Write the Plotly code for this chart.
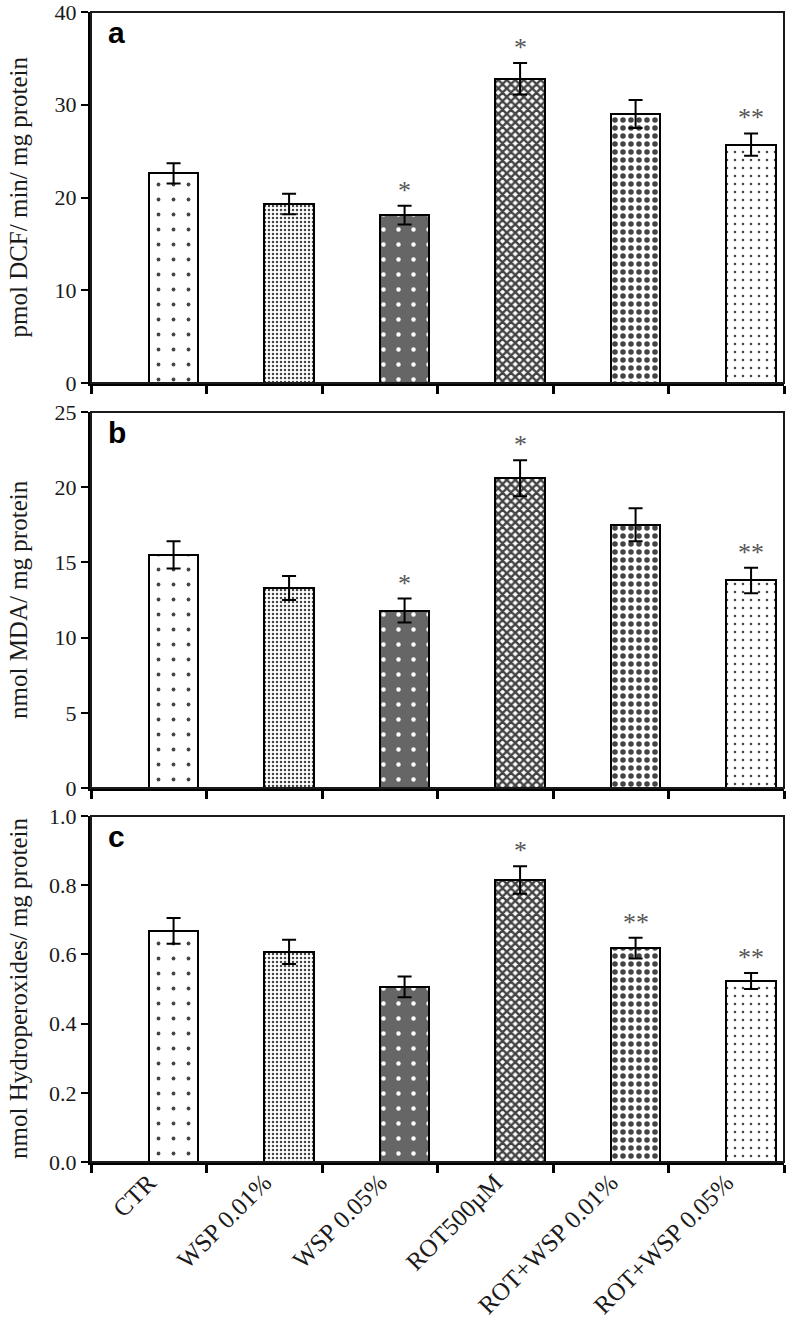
import plotly.graph_objects as go

categories = ["CTR", "WSP 0.01%", "WSP 0.05%", "ROT500µM", "ROT+WSP 0.01%", "ROT+WSP 0.05%"]

dcf_values = [22.6, 19.3, 18.1, 32.8, 29.0, 25.7]
dcf_errors = [1.1, 1.1, 1.0, 1.7, 1.5, 1.2]
dcf_marks = ["", "", "*", "*", "", "**"]

mda_values = [15.5, 13.3, 11.8, 20.6, 17.5, 13.8]
mda_errors = [0.9, 0.8, 0.8, 1.2, 1.1, 0.85]
mda_marks = ["", "", "*", "*", "", "**"]

hp_values = [0.668, 0.607, 0.506, 0.815, 0.618, 0.523]
hp_errors = [0.037, 0.035, 0.03, 0.04, 0.03, 0.023]
hp_marks = ["", "", "", "*", "**", "**"]

panel_letters = ["a", "b", "c"]
y_titles = ["pmol DCF/ min/ mg protein", "nmol MDA/ mg protein", "nmol Hydroperoxides/ mg protein"]
y_ranges = [[0, 40], [0, 25], [0, 1.0]]
y_dticks = [10, 5, 0.2]
y_formats = ["d", "d", ".1f"]

W, H = 792, 1324
ML, MR, MT, MB = 60, 4, 4, 150
PW, PH = W - ML - MR, H - MT - MB


def px_x(p):
    return (p - ML) / PW


def px_y(p):
    return 1 - (p - MT) / PH


# panel pixel extents (top, bottom)
panels_px = [(12, 383), (412, 788), (816, 1162)]
x_px = (91, 784)

pat_shape = [".", ".", ".", "x", ".", "."]
pat_fg = ["#111111", "#222222", "#ffffff", "#000000", "#000000", "#222222"]
pat_bg = ["#ffffff", "#ffffff", "#666666", "#ffffff", "#ffffff", "#ffffff"]
pat_size = [15, 4, 15, 6, 8, 8]
pat_sol = [0.05, 0.3, 0.07, 0.65, 0.38, 0.08]

BAR_W = 0.43
xs = list(range(len(categories)))

fig = go.Figure()
datasets = [(dcf_values, dcf_errors, dcf_marks), (mda_values, mda_errors, mda_marks), (hp_values, hp_errors, hp_marks)]
serif = "Liberation Serif"

for k, (vals, errs, marks) in enumerate(datasets):
    xa = "x" if k == 0 else f"x{k+1}"
    ya = "y" if k == 0 else f"y{k+1}"
    fig.add_trace(go.Bar(
        x=xs, y=vals, width=BAR_W, offset=0,
        xaxis=xa, yaxis=ya,
        marker=dict(color=pat_bg, line=dict(color="black", width=2),
                    pattern=dict(shape=pat_shape, fgcolor=pat_fg, bgcolor=pat_bg,
                                 size=pat_size, solidity=pat_sol, fillmode="overlay", fgopacity=1)),
        error_y=dict(type="data", array=errs, visible=True, color="black", thickness=2, width=7),
        showlegend=False, hoverinfo="skip",
    ))
    top, bot = panels_px[k]
    dom_y = [px_y(bot), px_y(top)]
    xkey = "xaxis" if k == 0 else f"xaxis{k+1}"
    ykey = "yaxis" if k == 0 else f"yaxis{k+1}"
    is_last = (k == 2)
    fig.layout[xkey] = dict(
        domain=[px_x(x_px[0]), px_x(x_px[1])], anchor=ya, range=[-0.5, 5.5], automargin=False,
        tickmode="array", tickvals=xs, ticktext=categories if is_last else [""] * 6,
        showticklabels=is_last, ticks="", tickangle=-45, ticklabeloverflow="allow",
        tickfont=dict(family=serif, size=25, color="#1a1a1a"),
        showline=True, linecolor="black", linewidth=3, showgrid=False, zeroline=False,
        minor=dict(tickmode="array", tickvals=[i + 0.5 for i in range(-1, 6)], ticks="outside",
                   ticklen=8, tickwidth=3, tickcolor="black", showgrid=False),
        fixedrange=True,
    )
    if is_last:
        fig.layout[xkey]["ticklabelstandoff"] = -7
    fig.layout[ykey] = dict(
        domain=dom_y, anchor=xa, range=y_ranges[k], dtick=y_dticks[k], tickformat=y_formats[k],
        tickmode="array", tickvals=[y_ranges[k][0] + j * y_dticks[k] for j in range(6) if y_ranges[k][0] + j * y_dticks[k] <= y_ranges[k][1] + 1e-9],
        ticks="outside", ticklen=7, tickwidth=2, tickcolor="black", automargin=False, ticklabeloverflow="allow",
        tickfont=dict(family=serif, size=22, color="#1a1a1a"),
        showline=True, linecolor="black", linewidth=3, showgrid=False, zeroline=False, fixedrange=True,
    )
    # frame (top/right)
    fig.add_shape(type="rect", xref=f"{xa} domain", yref=f"{ya} domain", x0=0, x1=1, y0=0, y1=1,
                  line=dict(color="#1a1a1a", width=2), layer="above")
    # significance marks
    for i, (v, e, m) in enumerate(zip(vals, errs, marks)):
        if m:
            fig.add_annotation(x=i + BAR_W / 2, y=v + e, xref=xa, yref=ya, text=m, showarrow=False,
                               yanchor="bottom", yshift=-1,
                               font=dict(family=serif, size=26, color="#555555"))
    # panel letter
    fig.add_annotation(x=0.022, y=1, xref=f"{xa} domain", yref=f"{ya} domain", text=f"<b>{panel_letters[k]}</b>",
                       showarrow=False, xanchor="left", yanchor="top", yshift=-2,
                       font=dict(family="Liberation Sans", size=30, color="black"))
    # y-axis title
    fig.add_annotation(x=px_x(18), y=px_y((top + bot) / 2), xref="paper", yref="paper", text=y_titles[k],
                       textangle=-90, showarrow=False, xanchor="center", yanchor="middle",
                       font=dict(family=serif, size=25, color="#1a1a1a"))

fig.update_layout(width=W, height=H, margin=dict(l=ML, r=MR, t=MT, b=MB, autoexpand=False),
                  paper_bgcolor="white", plot_bgcolor="white", bargap=0, hovermode=False)
fig.write_html("out.html", config={"displayModeBar": False},
               post_script="document.body.style.margin='0px';")
